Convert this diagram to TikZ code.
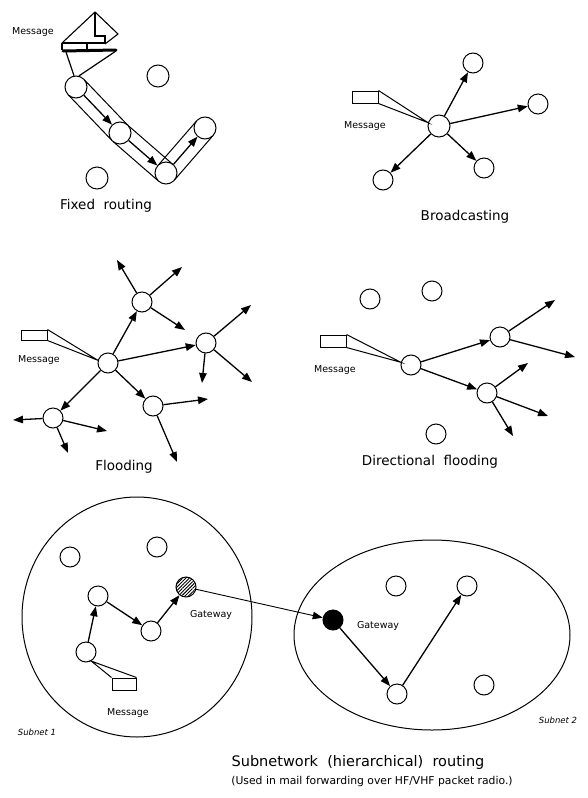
\documentclass[tikz,border=0pt]{standalone}
\usepackage{fontspec}
\setmainfont{DejaVu Sans}
\usetikzlibrary{arrows.meta,calc,shapes.geometric,patterns.meta,backgrounds}
\begin{document}
\begin{tikzpicture}[x=1pt,y=-1pt,
  nd/.style={circle,draw,line width=1pt,minimum size=20pt,inner sep=0pt,fill=white},
  ndb/.style={nd,minimum size=22pt},
  arr/.style={line width=1.3pt,-{Triangle[length=10pt,width=7.5pt]}},
  arrthin/.style={line width=0.9pt,-{Triangle[length=10pt,width=7.5pt]}},
  msgbox/.style={draw,line width=1pt,minimum width=26pt,minimum height=12pt,inner sep=0pt,fill=white},
  taper/.style={line width=1pt},
  lab/.style={font=\fontsize{13.5}{16}\selectfont},
  small/.style={font=\fontsize{9.5}{11}\selectfont},
  tiny/.style={font=\fontsize{8.5}{10}\selectfont\itshape},
  net/.style={ellipse,draw,line width=1pt,inner sep=0pt}]
\useasboundingbox (0,0) rectangle (587,798);

% ---------------- Fixed routing ----------------
\node[ndb] (A) at (76,87) {};
\node[ndb] (B) at (120,133) {};
\node[ndb] (C) at (166,173) {};
\node[ndb] (D) at (205,128) {};
\node[ndb] (fx1) at (158,76) {};
\node[ndb] (fx2) at (97,178) {};
\begin{scope}[on background layer]
  \foreach \p/\q in {A/B,B/C,C/D}{
    \draw[line width=1pt] ($(\p.center)!11pt!90:(\q.center)$) -- ($(\q.center)!11pt!-90:(\p.center)$);
    \draw[line width=1pt] ($(\p.center)!11pt!-90:(\q.center)$) -- ($(\q.center)!11pt!90:(\p.center)$);
  }
\end{scope}
\draw[arr] (A) -- (B);
\draw[arr] (B) -- (C);
\draw[arr] (C) -- (D);
% envelope seen from above, resting on its flattened base
\draw[line width=1.1pt,line join=round] (62,43) -- (95,12) -- (118,34) -- (105,44);
\draw[line width=1.1pt] (95,12) -- (95,36) -- (105,36) -- (105,44);
\draw[line width=1.1pt] (62,43) -- (105,43);
\draw[line width=1.1pt] (62,43) -- (62,50);
\draw[line width=1.1pt] (87,43) -- (87,51);
\draw[line width=3pt,line cap=round] (63,51) -- (116,50);
\draw[line width=1.2pt] (66,52) -- (A.100);
\draw[line width=1.2pt] (116,51) -- (A.75);
\node[small] (m1) at (33,32) {Message};
\node[lab] (t1) at (106,206) {Fixed\ \ routing};

% ---------------- Broadcasting ----------------
\node[ndb] (bc) at (439,126) {};
\node[nd] (b1) at (473,63) {};
\node[nd] (b2) at (538,104) {};
\node[nd] (b3) at (484,168) {};
\node[nd] (b4) at (383,180) {};
\foreach \n in {b1,b2,b3,b4} \draw[arr] (bc) -- (\n);
\node[msgbox] (bm) at (365,97) {};
\draw[taper] (bm.north east) -- (bc.163) -- (bm.south east);
\node[small] (m2) at (365,126) {Message};
\node[lab] (t2) at (465,217) {Broadcasting};

% ---------------- Flooding ----------------
\node[nd] (fc) at (108,363) {};
\node[nd] (f1) at (142,302) {};
\node[nd] (f2) at (206,343) {};
\node[nd] (f3) at (153,406) {};
\node[nd] (f4) at (53,418) {};
\foreach \n in {f1,f2,f3,f4} \draw[arr] (fc) -- (\n);
\coordinate (f1a) at (117,260); \coordinate (f1b) at (182,267); \coordinate (f1c) at (185,330);
\coordinate (f2a) at (251,305); \coordinate (f2b) at (202,383); \coordinate (f2c) at (252,382);
\coordinate (f3a) at (208,399); \coordinate (f3b) at (177,462);
\coordinate (f4a) at (13,420);  \coordinate (f4b) at (107,431); \coordinate (f4c) at (68,453);
\foreach \e in {f1a,f1b,f1c} \draw[arr] (f1) -- (\e);
\foreach \e in {f2a,f2b,f2c} \draw[arr] (f2) -- (\e);
\foreach \e in {f3a,f3b} \draw[arr] (f3) -- (\e);
\foreach \e in {f4a,f4b,f4c} \draw[arr] (f4) -- (\e);
\node[msgbox,minimum height=10pt] (fm) at (34,335) {};
\draw[taper] (fm.north east) -- (fc.165) -- (fm.south east);
\node[small] (m3) at (39,360) {Message};
\node[lab] (t3) at (124,467) {Flooding};

% ---------------- Directional flooding ----------------
\node[nd] (dc) at (411,365) {};
\node[nd] (d1) at (500,337) {};
\node[nd] (d2) at (487,393) {};
\node[nd] (dx1) at (370,299) {};
\node[nd] (dx2) at (432,291) {};
\node[nd] (dx3) at (436,434) {};
\draw[arr] (dc) -- (d1);
\draw[arr] (dc) -- (d2);
\coordinate (d1a) at (555,300); \coordinate (d1b) at (575,357);
\coordinate (d2a) at (528,363); \coordinate (d2b) at (548,416); \coordinate (d2c) at (513,436);
\foreach \e in {d1a,d1b} \draw[arr] (d1) -- (\e);
\foreach \e in {d2a,d2b,d2c} \draw[arr] (d2) -- (\e);
\node[msgbox] (dm) at (333,341) {};
\draw[taper] (dm.north east) -- (dc.165) -- (dm.south east);
\node[small] (m4) at (335,370) {Message};
\node[lab] (t4) at (430,462) {Directional\ \ flooding};

% ---------------- Subnetwork routing ----------------
\node[net,minimum width=230pt,minimum height=240pt] (net1) at (137,617) {};
\node[net,minimum width=276pt,minimum height=190pt] (net2) at (432,635) {};
% subnet 1
\node[nd] (s1) at (86,652) {};
\node[nd] (s2) at (98,596) {};
\node[nd] (s3) at (151,631) {};
\node[nd,pattern={Lines[angle=45,distance=2.4pt,line width=0.9pt]}] (gw1) at (186,587) {};
\node[nd] (sx1) at (70,557) {};
\node[nd] (sx2) at (157,547) {};
\draw[arr] (s1) -- (s2);
\draw[arr] (s2) -- (s3);
\draw[arr] (s3) -- (gw1);
\node[msgbox,minimum width=24pt] (sm) at (124,684) {};
\draw[taper] (sm.north west) -- (s1.-60) -- (sm.north east);
\node[small] (m5) at (128,713) {Message};
\node[small] (g1) at (211,615) {Gateway};
% subnet 2
\node[nd,fill=black] (gw2) at (333,620) {};
\node[nd] (u1) at (397,694) {};
\node[nd] (u2) at (467,586) {};
\node[nd] (ux1) at (396,586) {};
\node[nd] (ux2) at (484,685) {};
\draw[arrthin] (gw1) -- (gw2);
\draw[arr] (gw2) -- (u1);
\draw[arr] (u1) -- (u2);
\node[small] (g2) at (378,626) {Gateway};
\node[tiny] (sn1) at (37,732) {Subnet 1};
\node[tiny] (sn2) at (558,720) {Subnet 2};
\node[font=\fontsize{14.5}{17}\selectfont] (t5) at (358,762) {Subnetwork\ \ (hierarchical)\ \ routing};
\node[font=\fontsize{10.8}{13}\selectfont] (t6) at (372,782) {(Used in mail forwarding over HF/VHF packet radio.)};
\end{tikzpicture}
\end{document}
